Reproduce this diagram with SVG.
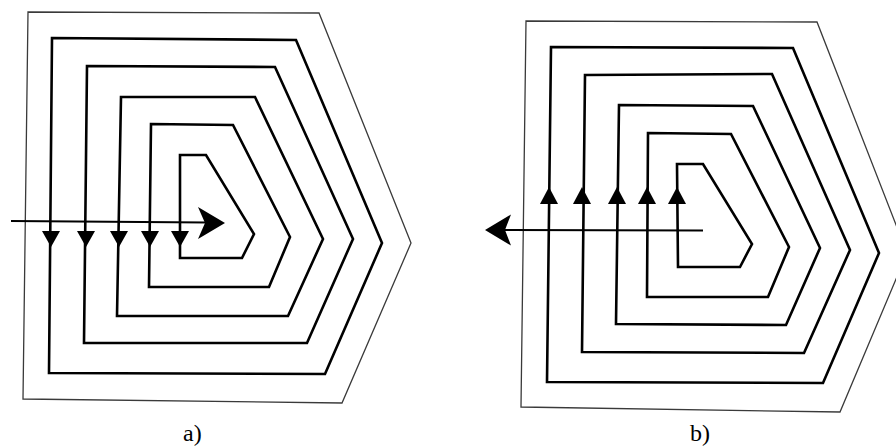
<svg xmlns="http://www.w3.org/2000/svg" width="896" height="447" viewBox="0 0 896 447">
<style>
.outer{fill:none;stroke:#3a3a3a;stroke-width:1.3;stroke-linejoin:miter}
.loop{fill:none;stroke:#000;stroke-width:2.6;stroke-linejoin:miter}
.ln{fill:none;stroke:#000;stroke-width:2.2}
.head{fill:#000;stroke:none}
.lbl{font-family:"Liberation Serif","Times New Roman",serif;font-size:24px;fill:#000}
</style>
<rect width="896" height="447" fill="#fff"/>
<g id="figure-a">
  <polygon id="a-outer" class="outer" points="28,12 319,13 411,243 342,403 23,399"/>
  <polygon id="a-loop1" class="loop" points="52,38 296,40 382,243 325,374 49,373"/>
  <polygon id="a-loop2" class="loop" points="87,66 275,67 353,239 307,343 84,343"/>
  <polygon id="a-loop3" class="loop" points="121,97 255,97 323,239 288,316 117,316"/>
  <polygon id="a-loop4" class="loop" points="151,124 233,125 290,237 269,287 149,287"/>
  <polygon id="a-loop5" class="loop" points="180,155 206,155 254,234 242,258 180,258"/>
  <g id="a-down-arrows">
    <polygon class="head" points="42,231 60,231 51,247"/>
    <polygon class="head" points="77,231 95,231 86,247"/>
    <polygon class="head" points="110,231 128,231 119,247"/>
    <polygon class="head" points="141,231 159,231 150,247"/>
    <polygon class="head" points="171,231 189,231 180,247"/>
  </g>
  <g id="a-main-arrow">
    <line class="ln" x1="11" y1="221" x2="207" y2="222.5"/>
    <path class="head" d="M225,223 L198,207 L205,223 L198,239 Z"/>
  </g>
  <text id="label-a" class="lbl" x="183" y="441">a)</text>
</g>
<g id="figure-b">
  <polygon id="b-outer" class="outer" points="526,21 817,22 907,253 840,412 521,407"/>
  <polygon id="b-loop1" class="loop" points="551,47 793,48 879,253 823,383 547,382"/>
  <polygon id="b-loop2" class="loop" points="585,75 772,74 850,250 804,353 582,352"/>
  <polygon id="b-loop3" class="loop" points="619,105 753,106 820,248 786,325 616,324"/>
  <polygon id="b-loop4" class="loop" points="648,133 731,134 789,247 768,297 647,297"/>
  <polygon id="b-loop5" class="loop" points="677,164 703,164 752,244 740,267 678,267"/>
  <g id="b-up-arrows">
    <polygon class="head" points="540,204 558,204 549,187"/>
    <polygon class="head" points="573,204 591,204 582,187"/>
    <polygon class="head" points="608,204 626,204 617,187"/>
    <polygon class="head" points="638,204 656,204 647,187"/>
    <polygon class="head" points="668,204 686,204 677,187"/>
  </g>
  <g id="b-main-arrow">
    <line class="ln" x1="504" y1="230" x2="703" y2="230.5"/>
    <path class="head" d="M485,230 L511,214.5 L505,230 L511,245.5 Z"/>
  </g>
  <text id="label-b" class="lbl" x="690" y="441">b)</text>
</g>
</svg>
